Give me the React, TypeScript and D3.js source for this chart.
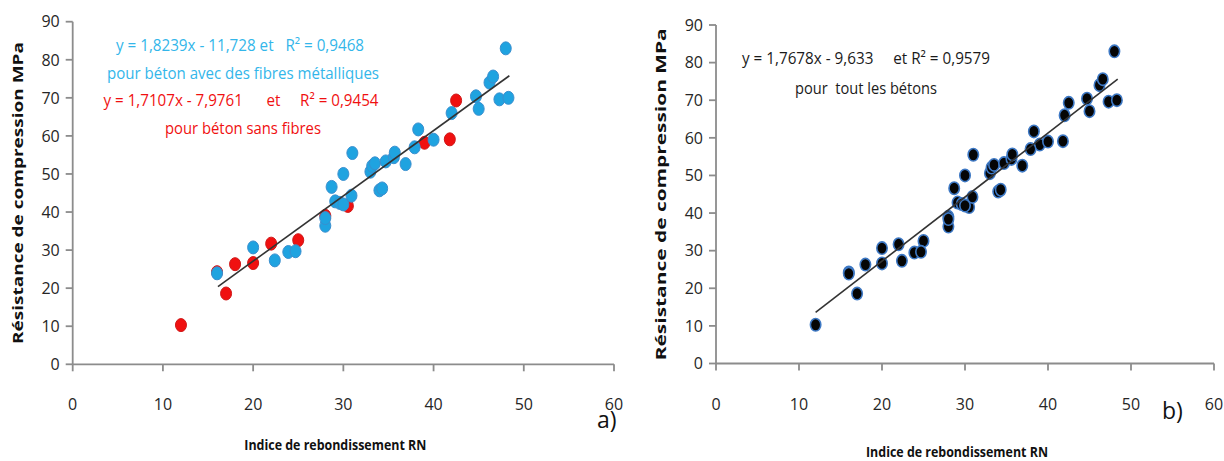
import React from "react";
import * as d3 from "d3";

// ---- data ----
const redX = [12, 16, 17, 18, 20, 22, 25, 28, 30.5, 39, 41.8, 42.5];
const redY = [10.3, 24.2, 18.6, 26.3, 26.6, 31.7, 32.6, 39.0, 41.6, 58.2, 59.1, 69.3];

const blueX = [16, 20, 22.4, 23.9, 24.7, 28, 28, 28.7, 29.1, 29.6, 30, 30, 30.9, 31, 33, 33.2, 33.5, 34, 34.3, 34.7, 35.6, 35.7, 36.9, 37.9, 38.3, 40, 42, 44.7, 45, 46.2, 46.6, 47.3, 48, 48.3];
const blueY = [23.9, 30.7, 27.3, 29.5, 29.7, 36.4, 38.4, 46.6, 42.8, 42.4, 50.0, 42.0, 44.3, 55.5, 50.6, 52.1, 52.8, 45.7, 46.2, 53.3, 54.4, 55.6, 52.6, 57.0, 61.7, 59.0, 66.0, 70.4, 67.1, 74.0, 75.6, 69.6, 83.0, 70.0];

const xTicks = [0, 10, 20, 30, 40, 50, 60];
const yTicks = [0, 10, 20, 30, 40, 50, 60, 70, 80, 90];

// trend line end points
const trendAX = [16.1, 48.4];
const trendAY = [20.4, 75.8];
const trendBX = [12.0, 48.4];
const trendBY = [13.6, 75.6];

const xTitle = "Indice de rebondissement RN";
const yTitle = "Résistance de compression MPa";

const FONT = "'Open Sans', 'Noto Sans', sans-serif";
const AXIS = "#8c8c8c";
const BLUE = "#1fa3e0";
const BLUE_TXT = "#33b6ea";
const RED = "#f01010";

type Pt = { x: number; y: number; c: string };

function Panel(props: {
  xr: [number, number];
  yr: [number, number];
  pts: Pt[];
  tx: number[];
  ty: number[];
  dark: boolean;
  yTitleX: number;
  yTitleLen: number;
  xTitleY: number;
  xTitleLen: number;
}) {
  const { xr, yr, pts, tx, ty, dark } = props;
  const x = d3.scaleLinear().domain([0, 60]).range(xr);
  const y = d3.scaleLinear().domain([0, 90]).range(yr);
  const line = d3
    .line<number>()
    .x((_, i) => x(tx[i]))
    .y((_, i) => y(ty[i]));
  const yMid = (yr[0] + yr[1]) / 2;
  const xMid = (xr[0] + xr[1]) / 2 - 8;
  return (
    <g>
      <line x1={xr[0]} x2={xr[1]} y1={yr[0]} y2={yr[0]} stroke={AXIS} strokeWidth={1.8} />
      <line x1={xr[0]} x2={xr[0]} y1={yr[0]} y2={yr[1]} stroke={AXIS} strokeWidth={1.8} />
      {xTicks.map((t) => (
        <g key={"x" + t}>
          <line x1={x(t)} x2={x(t)} y1={yr[0]} y2={yr[0] + 7} stroke={AXIS} strokeWidth={1.8} />
          <text x={x(t)} y={yr[0] + 46} textAnchor="middle" fontFamily={FONT} fontSize={16} fill="#262626">
            {t}
          </text>
        </g>
      ))}
      {yTicks.map((t) => (
        <g key={"y" + t}>
          <line x1={xr[0] - 7} x2={xr[0]} y1={y(t)} y2={y(t)} stroke={AXIS} strokeWidth={1.8} />
          <text x={xr[0] - 13} y={y(t)} dy="0.36em" textAnchor="end" fontFamily={FONT} fontSize={16} fill="#262626">
            {t}
          </text>
        </g>
      ))}
      {pts.map((p, i) =>
        dark ? (
          <ellipse key={i} cx={x(p.x)} cy={y(p.y)} rx={5.2} ry={6.2} fill="#050505" stroke="#3d78c4" strokeWidth={1.6} />
        ) : (
          <ellipse key={i} cx={x(p.x)} cy={y(p.y)} rx={5.5} ry={6.5} fill={p.c} stroke={p.c === RED ? "#d01818" : "#3a8fcf"} strokeWidth={1} />
        )
      )}
      <path d={line(tx) || ""} fill="none" stroke="#333" strokeWidth={1.6} />
      <text
        x={xMid}
        y={props.xTitleY}
        textAnchor="middle"
        fontFamily={FONT}
        fontWeight="bold"
        fontSize={15}
        fill="#111"
        textLength={props.xTitleLen}
        lengthAdjust="spacingAndGlyphs"
      >
        {xTitle}
      </text>
      <text
        transform={`translate(${props.yTitleX},${yMid}) rotate(-90)`}
        textAnchor="middle"
        dy="0.35em"
        fontFamily={FONT}
        fontWeight="bold"
        fontSize={15}
        fill="#111"
        textLength={props.yTitleLen}
        lengthAdjust="spacingAndGlyphs"
      >
        {yTitle}
      </text>
    </g>
  );
}

export default function App() {
  const ptsA: Pt[] = [
    ...redX.map((v, i) => ({ x: v, y: redY[i], c: RED })),
    ...blueX.map((v, i) => ({ x: v, y: blueY[i], c: BLUE })),
  ];
  const ptsB: Pt[] = ptsA.map((p) => ({ ...p, c: "#000" }));
  const pre = { whiteSpace: "pre" as const };
  return (
    <svg width={1224} height={461} style={{ position: "absolute", left: 0, top: 0, background: "#fff" }}>
      <rect width={1224} height={461} fill="#fff" />
      <Panel
        xr={[72.7, 614]}
        yr={[364.3, 21.7]}
        pts={ptsA}
        tx={trendAX}
        ty={trendAY}
        dark={false}
        yTitleX={18}
        yTitleLen={302}
        xTitleY={450}
        xTitleLen={182}
      />
      <Panel
        xr={[716, 1214]}
        yr={[363.5, 25]}
        pts={ptsB}
        tx={trendBX}
        ty={trendBY}
        dark={true}
        yTitleX={661}
        yTitleLen={332}
        xTitleY={457}
        xTitleLen={182}
      />
      <g fontFamily={FONT} fontSize={16}>
        <text x={240} y={51} textAnchor="middle" fill={BLUE_TXT} textLength={248} lengthAdjust="spacingAndGlyphs" xmlSpace="preserve" style={pre}>
          {"y = 1,8239x - 11,728 et   R² = 0,9468"}
        </text>
        <text x={243} y={79} textAnchor="middle" fill={BLUE_TXT} textLength={272} lengthAdjust="spacingAndGlyphs">
          pour béton avec des fibres métalliques
        </text>
        <text x={241} y={106} textAnchor="middle" fill={RED} textLength={275} lengthAdjust="spacingAndGlyphs" xmlSpace="preserve" style={pre}>
          {"y = 1,7107x - 7,9761      et     R² = 0,9454"}
        </text>
        <text x={243} y={134} textAnchor="middle" fill={RED} textLength={156} lengthAdjust="spacingAndGlyphs">
          pour béton sans fibres
        </text>
      </g>
      <g fontFamily={FONT} fontSize={16} fill="#1a1a1a">
        <text x={742} y={64} textLength={248} lengthAdjust="spacingAndGlyphs" xmlSpace="preserve" style={pre}>
          {"y = 1,7678x - 9,633     et R² = 0,9579"}
        </text>
        <text x={795} y={94} textLength={142} lengthAdjust="spacingAndGlyphs" xmlSpace="preserve" style={pre}>
          {"pour  tout les bétons"}
        </text>
      </g>
      <text x={597} y={428} fontFamily={FONT} fontSize={23} fill="#111">a)</text>
      <text x={1162} y={419} fontFamily={FONT} fontSize={23} fill="#111">b)</text>
    </svg>
  );
}
